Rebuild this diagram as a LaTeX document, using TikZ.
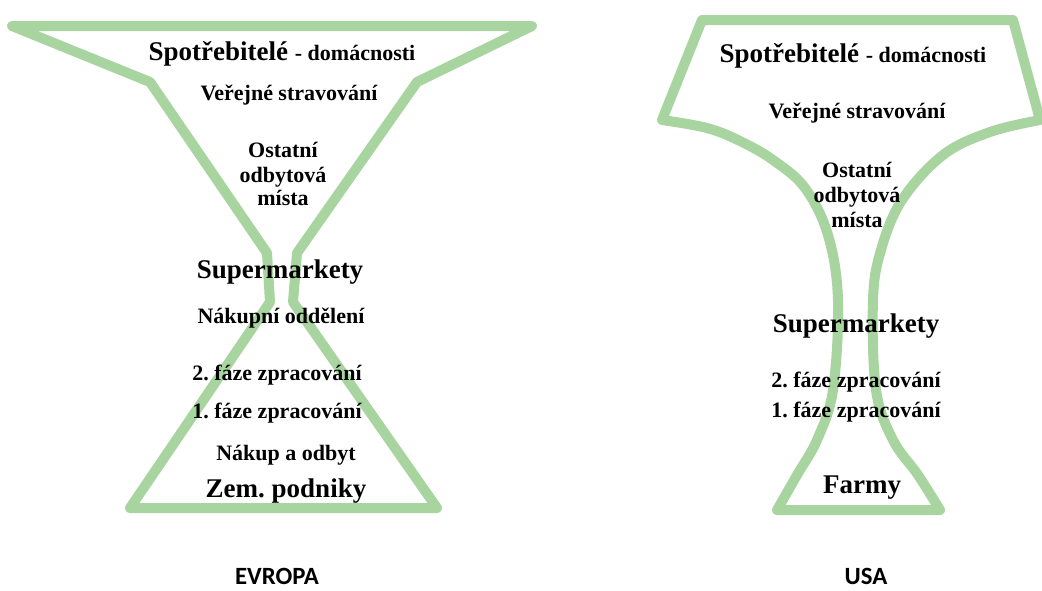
\documentclass[tikz,border=0pt]{standalone}
\usepackage{fontspec}
\setmainfont{Liberation Serif}
\newfontfamily\labfont{Carlito}
\definecolor{funnelgreen}{RGB}{168,212,160}
\frenchspacing
\begin{document}
\begin{tikzpicture}[x=0.75pt,y=-0.75pt,
  funnel/.style={draw=funnelgreen,line width=7.5pt,line join=round},
  bigtxt/.style={anchor=base,inner sep=0pt,font=\bfseries\fontsize{20.25}{22}\selectfont},
  normtxt/.style={anchor=base,inner sep=0pt,font=\bfseries\fontsize{16.5}{18}\selectfont},
  region/.style={anchor=base,inner sep=0pt,font=\labfont\bfseries\fontsize{18.6}{20}\selectfont}]
\useasboundingbox (0,0) rectangle (1042,590);
\fill[white] (0,0) rectangle (1042,590);

% ---- Europe shape
\draw[funnel] (12,26) -- (532,26) -- (417,82) -- (297,253) -- (293,302)
  -- (437,508) -- (130,508) -- (270,302) -- (267,253) -- (150,82) -- cycle;

% ---- USA shape
\draw[funnel] (702,20) -- (1013,20) -- (1040,120)
  -- plot[smooth,tension=0.6] coordinates {(1040,120) (990,132) (943,155) (902,200) (881,250) (873,300) (876,390) (893,440) (918,475) (940,510)}
  -- (777,510)
  -- plot[smooth,tension=0.6] coordinates {(777,510) (797,475) (817,440) (833,390) (838,300) (828,235) (805,188) (773,160) (740,141) (707,128) (662,120)}
  -- cycle;

% ---- Europe texts
\node[bigtxt] (eTop) at (282,60) {Spotřebitelé {\fontsize{16.5}{18}\selectfont - domácnosti}};
\node[normtxt] (eVer) at (289,100) {Veřejné stravování};
\node[normtxt] (eOst1) at (283,157) {Ostatní};
\node[normtxt] (eOst2) at (283,182) {odbytová};
\node[normtxt] (eOst3) at (283,205) {místa};
\node[bigtxt] (eSup) at (280,278) {Supermarkety};
\node[normtxt] (eNak) at (281,323) {Nákupní oddělení};
\node[normtxt] (eF2) at (277,380) {2. fáze zpracování};
\node[normtxt] (eF1) at (277,418) {1. fáze zpracování};
\node[normtxt] (eNaO) at (286,460) {Nákup a odbyt};
\node[bigtxt] (eZem) at (286,497) {Zem. podniky};
\node[region] (eLab) at (277,584) {EVROPA};

% ---- USA texts
\node[bigtxt] (uTop) at (853,62) {Spotřebitelé {\fontsize{16.5}{18}\selectfont - domácnosti}};
\node[normtxt] (uVer) at (857,118) {Veřejné stravování};
\node[normtxt] (uOst1) at (857,177) {Ostatní};
\node[normtxt] (uOst2) at (857,202) {odbytová};
\node[normtxt] (uOst3) at (857,227) {místa};
\node[bigtxt] (uSup) at (856,332) {Supermarkety};
\node[normtxt] (uF2) at (856,387) {2. fáze zpracování};
\node[normtxt] (uF1) at (856,417) {1. fáze zpracování};
\node[bigtxt] (uFarm) at (862,493) {Farmy};
\node[region] (uLab) at (866,584) {USA};
\end{tikzpicture}
\end{document}
